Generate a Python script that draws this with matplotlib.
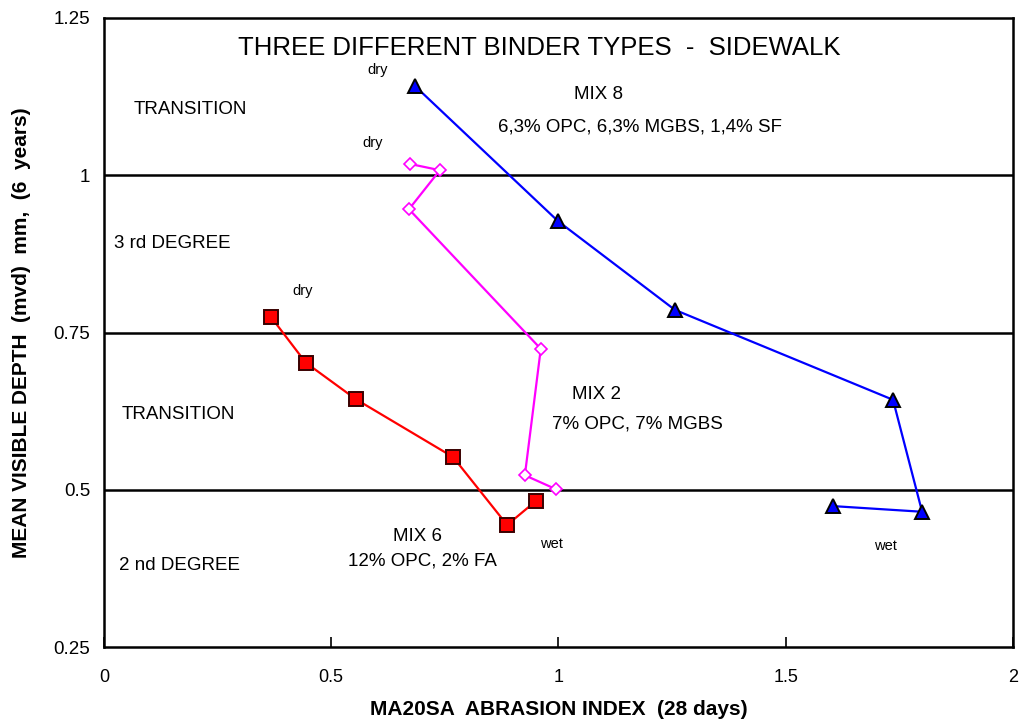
import matplotlib
matplotlib.use("Agg")
import matplotlib.pyplot as plt

plt.rcParams['font.family'] = ['Liberation Sans', 'DejaVu Sans']

# MIX 8 (blue triangles)
mix8_x = [0.684, 0.999, 1.256, 1.736, 1.800, 1.604]
mix8_y = [1.142, 0.927, 0.786, 0.643, 0.465, 0.474]
# MIX 2 (magenta open diamonds)
mix2_x = [0.673, 0.739, 0.671, 0.961, 0.926, 0.994]
mix2_y = [1.018, 1.008, 0.946, 0.724, 0.523, 0.501]
# MIX 6 (red squares)
mix6_x = [0.367, 0.444, 0.554, 0.768, 0.887, 0.950]
mix6_y = [0.775, 0.702, 0.644, 0.552, 0.444, 0.482]

xticks = [0, 0.5, 1, 1.5, 2]
xticklabels = ['0', '0.5', '1', '1.5', '2']
yticks = [0.25, 0.5, 0.75, 1, 1.25]
yticklabels = ['0.25', '0.5', '0.75', '1', '1.25']

fig = plt.figure(figsize=(10.2, 7.2), dpi=100)
ax = fig.add_axes([104 / 1020, 1 - 647 / 720, (1013 - 104) / 1020, (647 - 18) / 720])

for yv in [0.5, 0.75, 1.0]:
    ax.axhline(yv, color='black', lw=1.8, zorder=1)

ax.plot(mix8_x, mix8_y, color='#0000ff', lw=1.6, marker='^', ms=10,
        mfc='#0000ff', mec='black', mew=1.4, zorder=3)
ax.plot(mix2_x, mix2_y, color='#ff00ff', lw=1.6, marker='D', ms=6.5,
        mfc='white', mec='#ff00ff', mew=1.2, zorder=3)
ax.plot(mix6_x, mix6_y, color='#ff0000', lw=1.6, marker='s', ms=9.5,
        mfc='#ff0000', mec='#3a0000', mew=1.4, zorder=3)

ax.set_xlim(0, 2)
ax.set_ylim(0.25, 1.25)
ax.set_xticks(xticks)
ax.set_xticklabels(xticklabels)
ax.set_yticks(yticks)
ax.set_yticklabels(yticklabels)
ax.tick_params(axis='x', direction='in', length=7, width=1.2, labelsize=13, pad=16)
ax.tick_params(axis='y', direction='in', length=0, labelsize=13.5, pad=10)
for s in ax.spines.values():
    s.set_linewidth(1.8)

ax.set_xlabel('MA20SA  ABRASION INDEX  (28 days)', fontsize=15, fontweight='bold', labelpad=10)
ax.set_ylabel('MEAN VISIBLE DEPTH  (mvd)  mm,  (6  years)', fontsize=15, fontweight='bold', labelpad=16)

ax.text(0.957, 1.202, 'THREE DIFFERENT BINDER TYPES  -  SIDEWALK', fontsize=18.5, ha='center', va='center')

ax.text(0.19, 1.104, 'TRANSITION', fontsize=13.5, ha='center', va='center')
ax.text(0.15, 0.891, '3 rd DEGREE', fontsize=13.5, ha='center', va='center')
ax.text(0.163, 0.619, 'TRANSITION', fontsize=13.5, ha='center', va='center')
ax.text(0.167, 0.379, '2 nd DEGREE', fontsize=13.5, ha='center', va='center')

ax.text(1.087, 1.128, 'MIX 8', fontsize=13.5, ha='center', va='center')
ax.text(1.18, 1.076, '6,3% OPC, 6,3% MGBS, 1,4% SF', fontsize=13.5, ha='center', va='center')
ax.text(1.083, 0.651, 'MIX 2', fontsize=13.5, ha='center', va='center')
ax.text(1.173, 0.605, '7% OPC, 7% MGBS', fontsize=13.5, ha='center', va='center')
ax.text(0.69, 0.426, 'MIX 6', fontsize=13.5, ha='center', va='center')
ax.text(0.70, 0.387, '12% OPC, 2% FA', fontsize=13.5, ha='center', va='center')

ax.text(0.603, 1.168, 'dry', fontsize=10.5, ha='center', va='center')
ax.text(0.59, 1.052, 'dry', fontsize=10.5, ha='center', va='center')
ax.text(0.438, 0.816, 'dry', fontsize=10.5, ha='center', va='center')
ax.text(0.985, 0.414, 'wet', fontsize=10.5, ha='center', va='center')
ax.text(1.72, 0.41, 'wet', fontsize=10.5, ha='center', va='center')

fig.savefig('out.png', dpi=100)
